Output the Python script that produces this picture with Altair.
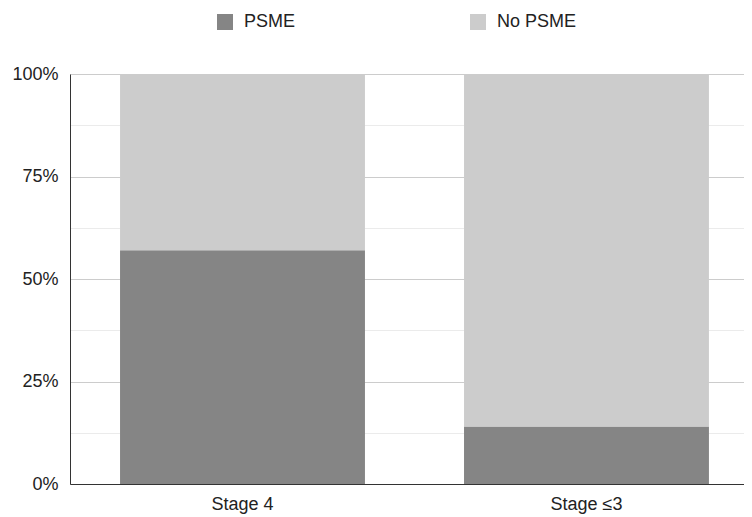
import altair as alt
import pandas as pd

stages = ["Stage 4", "Stage 4", "Stage ≤3", "Stage ≤3"]
groups = ["PSME", "No PSME", "PSME", "No PSME"]
values = [57, 43, 14, 86]
orders = [0, 1, 0, 1]

y_ticks = [0, 0.125, 0.25, 0.375, 0.5, 0.625, 0.75, 0.875, 1.0]

df = pd.DataFrame({"stage": stages, "group": groups, "value": values, "o": orders})

FONT = "Liberation Sans"

chart = alt.Chart(df).mark_bar().encode(
    x=alt.X(
        "stage:N",
        sort=["Stage 4", "Stage ≤3"],
        scale=alt.Scale(paddingInner=0.288, paddingOuter=0.1237, align=0.588),
        axis=alt.Axis(
            title=None, labelAngle=0, ticks=False, labelPadding=11,
            labelFontSize=18, labelFont=FONT, labelColor="#222222",
            domainColor="#333333", domainWidth=1, grid=False,
        ),
    ),
    y=alt.Y(
        "value:Q",
        stack="normalize",
        scale=alt.Scale(domain=[0, 1], nice=False),
        axis=alt.Axis(
            title=None, values=y_ticks, format=".0%",
            labelExpr="(round(datum.value*1000) % 250 == 0) ? datum.label : ''",
            ticks=False, labelPadding=12, labelFontSize=18, labelFont=FONT,
            labelColor="#222222", domainColor="#333333", domainWidth=1,
            grid=True,
            gridColor={"condition": {"test": "round(datum.value*1000) % 250 == 0", "value": "#cccccc"}, "value": "#ebebeb"},
            gridWidth=1,
        ),
    ),
    color=alt.Color(
        "group:N",
        scale=alt.Scale(domain=["PSME", "No PSME"], range=["#858585", "#cccccc"]),
        legend=alt.Legend(
            title=None, orient="none", legendX=146, legendY=-61,
            direction="horizontal", symbolType="square", symbolSize=256,
            symbolStrokeWidth=0, labelOffset=10, columnPadding=173,
            labelFontSize=18, labelFont=FONT, labelColor="#222222",
        ),
    ),
    order=alt.Order("o:Q", sort="ascending"),
).properties(
    width=674, height=410,
    autosize=alt.AutoSizeParams(type="none"),
    padding={"left": 62, "top": 66, "right": 0, "bottom": 33},
).configure_view(stroke=None).configure(background="white")

chart.save("out.html", embed_options={"renderer": "svg", "actions": False})
